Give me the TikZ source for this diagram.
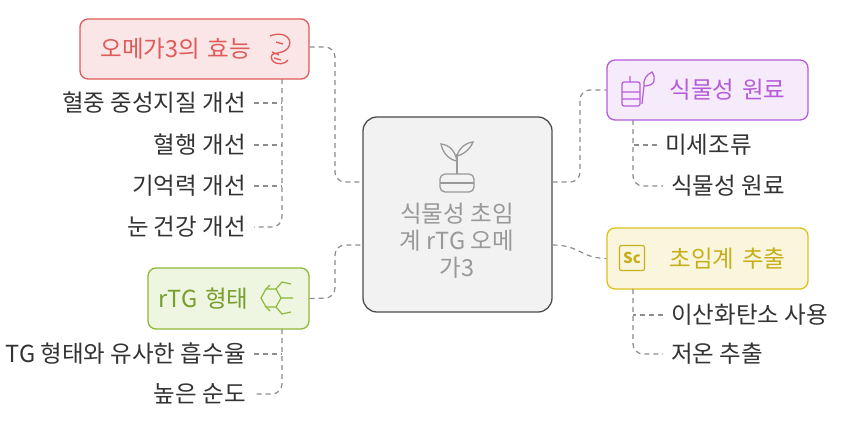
\documentclass[tikz,border=0pt]{standalone}
\usepackage{fontspec}
\setmainfont{Noto Sans CJK KR}
\begin{document}
\begin{tikzpicture}[x=1pt,y=-1pt,
  box/.style={draw,rounded corners=8pt,line width=1.3pt,font=\fontsize{23.5}{26}\selectfont},
  leaf/.style={anchor=east,font=\fontsize{23.5}{26}\selectfont,text=black!80,outer sep=5pt},
  conn/.style={draw=black!45,dashed,dash pattern=on 5pt off 4pt,line width=1.2pt,rounded corners=10pt}]
\useasboundingbox (0,0) rectangle (844,421);
\definecolor{redc}{HTML}{E05A5A}\definecolor{grnc}{HTML}{8DBA35}
\definecolor{purc}{HTML}{B75BDC}\definecolor{yelc}{HTML}{DCC21E}
% center
\node[box,draw=black!70,fill=black!5,minimum width=189pt,minimum height=195pt,rounded corners=14pt] (c) at (457.5,214.5) {};
\node[text=black!40,align=center,font=\fontsize{23.5}{27}\selectfont] (ct) at (457,241) {식물성 초임\\계 rTG 오메\\가3};
\begin{scope}[draw=black!40,line width=1.3pt]
\draw[rounded corners=5pt] (440,174) rectangle (474,192);
\draw (440,183)--(474,183);
\draw (457,174)--(457,154);
\draw (457,161) .. controls (450,160) and (443,154) .. (441,144) .. controls (450,145) and (455,151) .. (457,161);
\draw (457,156) .. controls (462,155) and (470,150) .. (473,142) .. controls (465,143) and (459,148) .. (457,156);
\end{scope}
% boxes
\node[box,draw=redc,fill=redc!15,text=redc,minimum width=229pt,minimum height=60pt,text width=200pt] (a) at (194.5,49) {\hspace*{6pt}오메가3의 효능};
\draw[redc,line width=1.3pt] (270,36) .. controls (285,30) and (294,40) .. (288,48) .. controls (282,56) and (268,50) .. (272,60) .. controls (276,66) and (286,64) .. (288,60)
  (276,42)--(283,44) (272,52)--(279,55) (274,58)--(281,60);
\node[box,draw=grnc,fill=grnc!15,text=grnc!85!black,minimum width=161pt,minimum height=61pt,text width=140pt] (b) at (228.5,298.5) {rTG 형태};
\begin{scope}[grnc,line width=1.2pt]
\draw (266,289)--(276,289)--(281,298)--(276,307)--(266,307)--(261,298)--cycle;
\draw (281,298)--(293,298) (276,289)--(282,282)--(291,284) (276,307)--(282,314)--(291,312) (266,289)--(270,285) (266,307)--(270,311);
\end{scope}
\node[box,draw=purc,fill=purc!12,text=purc,minimum width=201pt,minimum height=60pt,text width=180pt] (p) at (707.5,90) {\hspace*{52pt}식물성 원료};
\draw[purc,line width=1.2pt,rounded corners=2pt] (622,82) rectangle (640,106); \draw[purc,line width=1.2pt] (622,92)--(640,92) (622,99)--(640,99) (644,86) .. controls (656,86) and (656,78) .. (652,72) .. controls (646,75) and (643,80) .. (644,86) (630,82)--(630,76) (644,86)--(642,104);
\node[box,draw=yelc,fill=yelc!15,text=yelc!90!black,minimum width=201pt,minimum height=61pt,text width=180pt] (y) at (707.5,258.5) {\hspace*{52pt}초임계 추출};
\node[draw=yelc!90!black,line width=1.2pt,rounded corners=2pt,minimum width=25pt,minimum height=25pt,inner sep=0pt,text=yelc!90!black,font=\fontsize{15}{15}\selectfont\bfseries] (yi) at (632,258) {Sc};
% leaves
\node[leaf] (a1) at (254,103) {혈중 중성지질 개선};
\node[leaf] (a2) at (254,145) {혈행 개선};
\node[leaf] (a3) at (254,186) {기억력 개선};
\node[leaf] (a4) at (254,227) {눈 건강 개선};
\node[leaf] (b1) at (254,354) {TG 형태와 유사한 흡수율};
\node[leaf] (b2) at (254,394) {높은 순도};
\node[leaf,anchor=west] (p1) at (657,145) {미세조류};
\node[leaf,anchor=west] (p2) at (663,186) {식물성 원료};
\node[leaf,anchor=west] (y1) at (663,315) {이산화탄소 사용};
\node[leaf,anchor=west] (y2) at (663,354) {저온 추출};
% connectors
\draw[conn] (a.east |- 0,47) -- (335,47) -- (335,182) -- (c.west |- 0,182);
\draw[conn] (b.east) -- (335,298) -- (335,245) -- (c.west |- 0,245);
\draw[conn] (c.east |- 0,182) -- (580,182) -- (580,90) -- (p.west);
\draw[conn,rounded corners=0pt] (c.east |- 0,245) .. controls (580,245) and (580,258) .. (y.west);
\draw[conn] (282,79) -- (282,227) -- (a4.east);
\draw[conn] (a1.east) -- (282,103); \draw[conn] (a2.east) -- (282,145); \draw[conn] (a3.east) -- (282,186);
\draw[conn] (282,329) -- (282,394) -- (b2.east); \draw[conn] (b1.east) -- (282,354);
\draw[conn] (633,120) -- (633,186) -- (p2.west); \draw[conn] (p1.west) -- (633,145);
\draw[conn] (633,289) -- (633,354) -- (y2.west); \draw[conn] (y1.west) -- (633,315);
\end{tikzpicture}
\end{document}
